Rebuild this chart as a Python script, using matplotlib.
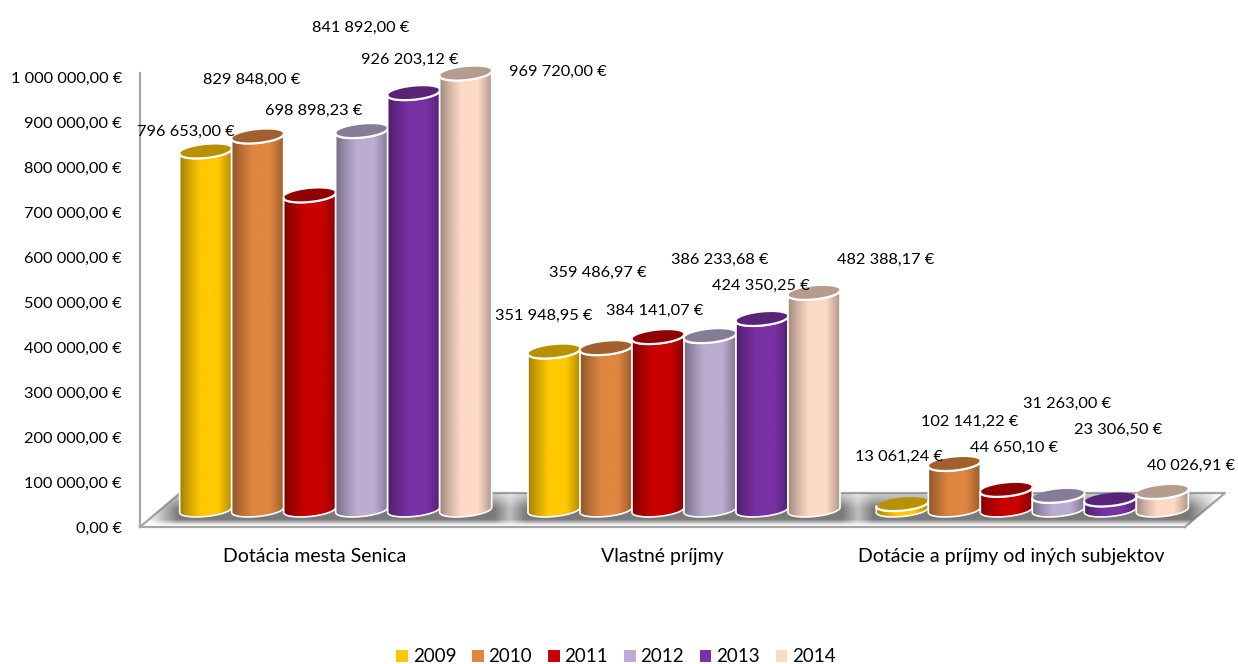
import matplotlib
matplotlib.use('Agg')
import matplotlib.pyplot as plt
import numpy as np
from matplotlib.colors import to_rgb
from matplotlib.patches import Patch, Polygon

plt.rcParams['font.family'] = ['Lato', 'DejaVu Sans']

# Data
categories = ['Dotácia mesta Senica', 'Vlastné príjmy', 'Dotácie a príjmy od iných subjektov']
years = ['2009', '2010', '2011', '2012', '2013', '2014']
dotacia = [796653.00, 829848.00, 698898.23, 841892.00, 926203.12, 969720.00]
vlastne = [351948.95, 359486.97, 384141.07, 386233.68, 424350.25, 482388.17]
ostatne = [13061.24, 102141.22, 44650.10, 31263.00, 23306.50, 40026.91]
series_by_category = [dotacia, vlastne, ostatne]
y_ticks = [0, 100000, 200000, 300000, 400000, 500000, 600000, 700000, 800000, 900000, 1000000]

# Styles
colors = ['#FFC800', '#DF8640', '#C80000', '#BCACD2', '#7A31A6', '#FDD9C6']
# label offset from the bar top, in pixels (the original has them scattered)
label_offsets = [
    [(-20, 20), (-6, 57), (4, 85), (-1, 103), (-4, 33), (92, 2)],
    [(-10, 36), (-8, 75), (-3, 26), (10, 76), (-1, 33), (72, 33)],
    [(-3, 47), (15, 42), (8, 42), (9, 92), (8, 70), (29, 26)],
]

W, H = 1238, 664
PX_X = 3 / 1045          # category units per pixel
PX_Y = 1e6 / 450         # euro per pixel
BAR_W = 52 * PX_X
DEPTH_X, DEPTH_Y = 21.5 * PX_X, 17 * PX_Y
GRAY = '#A6A6A6'


def fmt(v):
    return f'{v:,.2f}'.replace(',', ' ').replace('.', ',') + ' €'


def ellipse(xc, yc, t):
    x = xc + BAR_W / 2 * np.cos(t)
    y = yc + 6.5 * PX_Y * np.sin(t) + 2.5 * PX_Y * np.cos(t)
    return x, y


def draw_bar(ax, xc, value, color, z):
    base = DEPTH_Y
    top = base + value
    rgb = np.array(to_rgb(color))
    # horizontal shading of the cylinder
    t = np.linspace(0, 1, 64)
    shade = 0.62 + 0.38 * np.clip(np.minimum(t / 0.4, (1 - t) / 0.3 + 0.12), 0, 1) ** 0.8
    grad = (rgb[None, :] * shade[:, None])[None, :, :]

    low_x, low_y = ellipse(xc, base, np.linspace(np.pi, 2 * np.pi, 40))
    up_x, up_y = ellipse(xc, top, np.linspace(2 * np.pi, np.pi, 40))
    body = np.column_stack([np.r_[low_x, up_x], np.r_[low_y, up_y]])
    clip = Polygon(body, closed=True, transform=ax.transData, fc='none', ec='none')
    ax.add_patch(clip)
    im = ax.imshow(grad, extent=[xc - BAR_W / 2, xc + BAR_W / 2, base - 10 * PX_Y, top + 5 * PX_Y],
                   aspect='auto', zorder=z, interpolation='bilinear')
    im.set_clip_box(ax.figure.bbox)
    im.set_clip_path(clip)
    ax.add_patch(Polygon(body, closed=True, fc='none', ec='white', lw=1.2, zorder=z + 0.1, clip_on=False))
    tx, ty = ellipse(xc, top, np.linspace(0, 2 * np.pi, 80))
    ax.add_patch(Polygon(np.column_stack([tx, ty]), closed=True, fc=rgb * 0.72, ec='none',
                         zorder=z + 0.2, clip_on=False))
    # white rim on the front of the lid
    ax.plot(up_x, up_y, color='white', lw=1.6, zorder=z + 0.3, clip_on=False)


fig = plt.figure(figsize=(W / 100, H / 100), dpi=100)
ax = fig.add_axes([140 / W, (H - 527) / H, 1045 / W, 454 / H])

# Floor of the 3D box
floor_dx, floor_dy = 40 * PX_X, 34 * PX_Y
floor = Polygon([(0, 0), (floor_dx, floor_dy), (3 + floor_dx, floor_dy), (3, 0)], closed=True,
                fc='white', ec='none', zorder=1, transform=ax.transData, clip_on=False)
ax.add_patch(floor)
xs = np.linspace(0, 3 + floor_dx, 700)
ys = np.linspace(0, floor_dy, 80)
prof = np.zeros_like(xs)
for i in range(3):
    c = i + 0.5 + DEPTH_X
    prof = np.maximum(prof, np.clip((3.05 * BAR_W + 30 * PX_X - np.abs(xs - c)) / (30 * PX_X), 0, 1))
yprof = np.clip((ys - 1.5 * PX_Y) / (6 * PX_Y), 0, 1) * np.clip((floor_dy - ys) / (24 * PX_Y) + 0.35, 0, 1)
alpha = np.outer(yprof, prof) * 0.9
rgba = np.zeros(alpha.shape + (4,))
rgba[..., :3] = 0.42
rgba[..., 3] = alpha
shadow = ax.imshow(rgba, extent=[0, 3 + floor_dx, 0, floor_dy], origin='lower', aspect='auto',
                   zorder=1.5, interpolation='bilinear')
shadow.set_clip_box(fig.bbox)
shadow.set_clip_path(floor)
ax.plot([0, floor_dx, 3 + floor_dx, 3], [0, floor_dy, floor_dy, 0], color=GRAY, lw=1.6, zorder=1.2, clip_on=False)

# Bars
for i, vals in enumerate(series_by_category):
    for j, v in enumerate(vals):
        xc = i + 0.5 + DEPTH_X + (j - 2.5) * BAR_W
        draw_bar(ax, xc, v, colors[j], 2 + i * 6 + j)
        ax.annotate(fmt(v), xy=(xc, v + DEPTH_Y), xytext=label_offsets[i][j], textcoords='offset pixels',
                    ha='center', va='center', fontsize=11.8, color='black', zorder=60, annotation_clip=False)

ax.set_xlim(0, 3)
ax.set_ylim(0, 454 * PX_Y)
ax.set_xticks([0.5, 1.5, 2.5], categories)
ax.set_yticks(y_ticks, [fmt(v) for v in y_ticks])
ax.tick_params(axis='x', length=0, pad=15, labelsize=14)
ax.tick_params(axis='y', length=0, pad=13, labelsize=11.8)
for s in ['top', 'right']:
    ax.spines[s].set_visible(False)
for s in ['left', 'bottom']:
    ax.spines[s].set_color(GRAY)
    ax.spines[s].set_linewidth(1.6)
ax.patch.set_visible(False)

handles = [Patch(fc=c, ec='none', label=y) for c, y in zip(colors, years)]
fig.legend(handles=handles, ncol=6, loc='center', bbox_to_anchor=(616 / W, (H - 657) / H), frameon=False,
           fontsize=13.5, handlelength=0.62, handleheight=0.62, handletextpad=0.25, columnspacing=0.85,
           borderpad=0)

fig.savefig('out.png', dpi=100)
